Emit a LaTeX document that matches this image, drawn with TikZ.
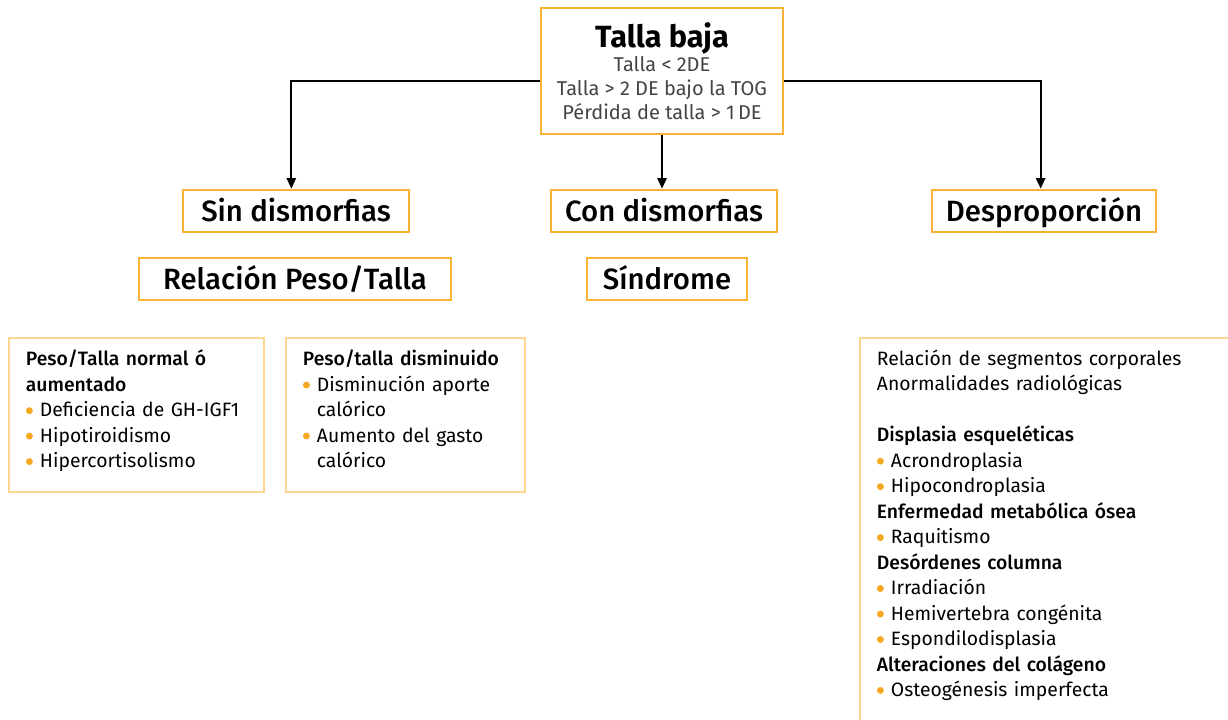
\documentclass[tikz,border=0pt]{standalone}
\usepackage{fontspec}
\setmainfont{Fira Sans}
\newfontfamily\medio{Fira Sans Medium}
\usetikzlibrary{arrows.meta,positioning}
\definecolor{naranja}{HTML}{F9B233}
\definecolor{naranjaclaro}{HTML}{FDD690}
\definecolor{punto}{HTML}{F7A823}
\definecolor{gris}{HTML}{444444}
\newcommand{\pt}{\makebox[10.5pt][l]{\tikz[baseline=-4.6pt]\fill[punto] (2.4pt,0) circle (2.6pt);}}
\newcommand{\sg}{\hspace*{10.5pt}}
\newcommand{\tit}[1]{{\medio #1}}
\begin{document}
\begin{tikzpicture}[x=0.75pt, y=-0.75pt,
  caja/.style={draw=naranja, line width=1.5pt, minimum height=32pt, inner sep=0pt,
    text height=20.5pt, text depth=5pt, font=\fontsize{22}{24}\selectfont\medio},
  lista/.style={anchor=north west, align=left,
    inner xsep=12.5pt, inner ysep=8.8pt, font=\fontsize{14.5}{19.1}\selectfont},
  borde/.style={draw=naranjaclaro, line width=1.5pt},
  flecha/.style={-{Triangle[width=7pt,length=8pt]}, line width=1.5pt}
]
\useasboundingbox (0,0) rectangle (1228,719);
\clip (0,0) rectangle (1228,719);

\node[draw=naranja, line width=1.5pt, minimum width=182pt, minimum height=94.5pt, align=center,
  font=\fontsize{15}{18}\selectfont\color{gris}] (talla) at (662,71)
  {{\fontsize{23}{25}\selectfont\bfseries\color{black}Talla baja}\\Talla < 2DE\\Talla > 2 DE bajo la TOG\\Pérdida de talla > 1\,DE};

\node[caja, minimum width=169pt] (sin) at (296,211) {Sin dismorfias};
\node[caja, minimum width=169pt] (con) at (664,211) {Con dismorfias};
\node[caja, minimum width=168pt] (desp) at (1044,211) {Desproporción};
\node[caja, minimum width=234pt] (relpt) at (295,279) {Relación Peso/Talla};
\node[caja, minimum width=120pt] (sind) at (667,279) {Síndrome};

\node[lista, text width=166pt] (normal) at (9,338)
  {\tit{Peso/Talla normal ó}\\\tit{aumentado}\\\pt Deficiencia de GH-IGF1\\\pt Hipotiroidismo\\\pt Hipercortisolismo};
\draw[borde] (normal.north west) rectangle (264,492);
\node[lista, text width=154pt] (dismin) at (286,338)
  {\tit{Peso/talla disminuido}\\\pt Disminución aporte\\\sg calórico\\\pt Aumento del gasto\\\sg calórico};
\draw[borde] (dismin.north west) rectangle (525,492);
\node[lista, text width=260pt] (segm) at (860,338)
  {Relación de segmentos corporales\\Anormalidades radiológicas\\[19.1pt]
   \tit{Displasia esqueléticas}\\\pt Acrondroplasia\\\pt Hipocondroplasia\\
   \tit{Enfermedad metabólica ósea}\\\pt Raquitismo\\
   \tit{Desórdenes columna}\\\pt Irradiación\\\pt Hemivertebra congénita\\\pt Espondilodisplasia\\
   \tit{Alteraciones del colágeno}\\\pt Osteogénesis imperfecta};
\draw[borde] (segm.north west) rectangle (1240,740);

\draw[flecha] ([yshift=-7.5pt]talla.west) -| ([xshift=-3.5pt]sin.north);
\draw[flecha] ([yshift=-7.5pt]talla.east) -| ([xshift=-2.5pt]desp.north);
\draw[flecha] (talla.south) -- (talla.south |- con.north);
\end{tikzpicture}
\end{document}
